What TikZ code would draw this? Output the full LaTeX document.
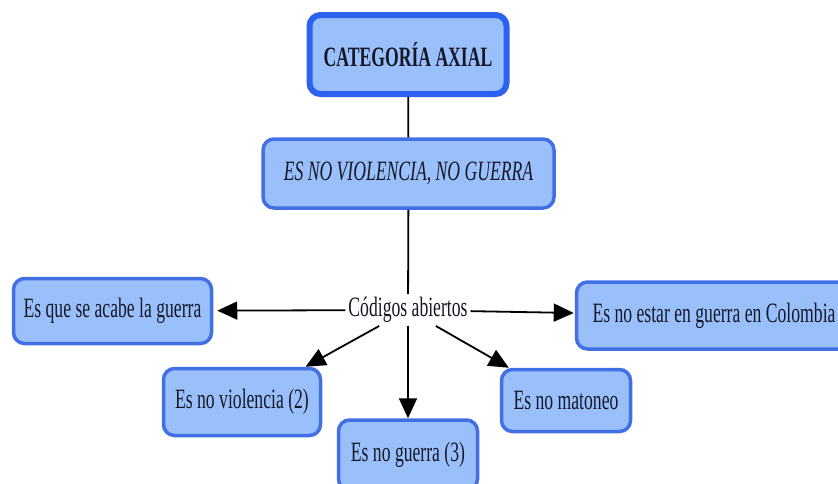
\documentclass[tikz,border=0pt]{standalone}
\usepackage{fontspec}
\setmainfont{Liberation Serif}[FakeStretch=0.63]
\usepackage{xcolor}
\usepackage{tikz}
\usetikzlibrary{arrows.meta}
\definecolor{BoxFill}{RGB}{153,192,250}
\definecolor{BoxEdge}{RGB}{66,112,228}
\definecolor{AxialEdge}{RGB}{45,98,238}
\definecolor{InkNavy}{RGB}{22,24,40}
\tikzset{
  cbox/.style={draw=BoxEdge, line width=3.5pt, fill=BoxFill, rounded corners=11pt,
    inner sep=2pt, align=center, text=InkNavy, font=\fontsize{28}{32}\selectfont},
  axialbox/.style={cbox, draw=AxialEdge, line width=6pt, font=\fontsize{28}{32}\selectfont\bfseries},
  linker/.style={line width=1.8pt, black},
  arr/.style={-{Triangle[length=20pt,width=18pt]}, line width=1.8pt, black},
}
\begin{document}
\begin{tikzpicture}[x=1pt, y=-1pt]
  \useasboundingbox (0,0) rectangle (838,483);
  % categoria y nucleo
  \node[axialbox, minimum width=197pt, minimum height=79pt] (axial) at (408,54.5) {CATEGORÍA AXIAL};
  \node[cbox, minimum width=291pt, minimum height=69pt, font=\fontsize{28}{32}\selectfont\itshape] (nucleo) at (408.5,173.5) {ES NO VIOLENCIA, NO GUERRA};
  \node[fill=white, inner sep=3pt, text=InkNavy, font=\fontsize{28}{32}\selectfont] (codigos) at (408,310) {Códigos abiertos};
  % codigos
  \node[cbox, minimum width=198pt, minimum height=65pt] (acabe) at (112.5,311) {Es que se acabe la guerra};
  \node[cbox, minimum width=275pt, minimum height=67pt] (colombia) at (714,315.5) {Es no estar en guerra en Colombia};
  \node[cbox, minimum width=157pt, minimum height=67pt] (violencia) at (242,402) {Es no violencia (2)};
  \node[cbox, minimum width=139pt, minimum height=70pt] (guerra) at (408,455) {Es no guerra (3)};
  \node[cbox, minimum width=129pt, minimum height=62pt] (matoneo) at (566,400.5) {Es no matoneo};
  \draw[linker] (axial) -- (nucleo);
  \draw[linker] (nucleo) -- (codigos);
  \draw[arr, shorten >=4pt] (codigos) -- (acabe);
  \draw[arr, shorten >=1pt] (codigos) -- (colombia);
  \draw[arr] (codigos) -- (violencia);
  \draw[arr] (codigos) -- (guerra);
  \draw[arr] (codigos) -- (matoneo);
\end{tikzpicture}
\end{document}
